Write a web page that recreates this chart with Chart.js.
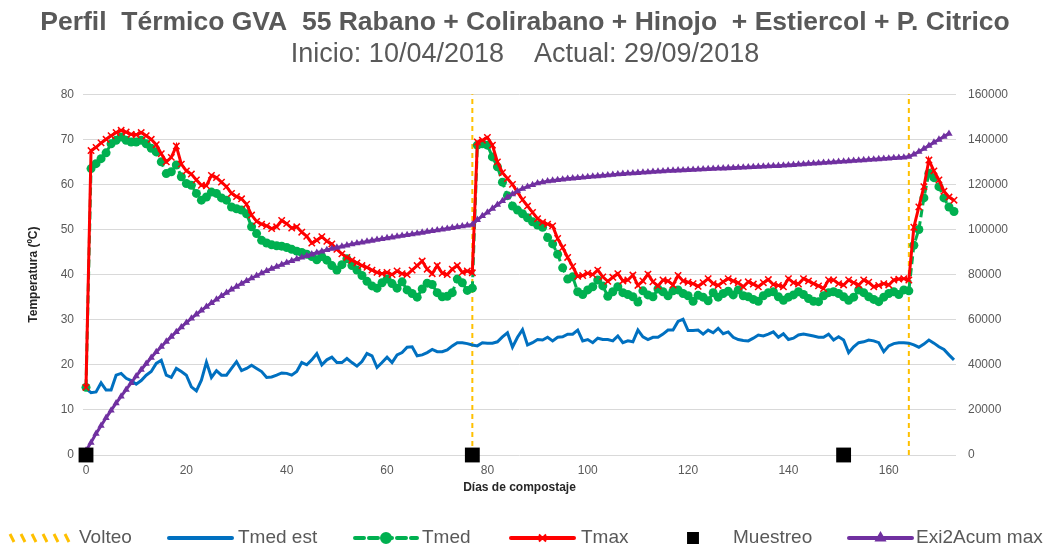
<!DOCTYPE html>
<html>
<head>
<meta charset="utf-8">
<script src="https://cdn.jsdelivr.net/npm/chart.js@4.4.1/dist/chart.umd.min.js"></script>
<style>
html, body { margin: 0; padding: 0; background: #fff; }
</style>
</head>
<body>
<canvas id="perfilChart" width="1050" height="547"></canvas>
<script>
// Datos (un valor por dia de compostaje, dia 0 = 10/04/2018)
const tmedEst = [
  14.7, 13.8, 14.0, 16.0, 14.4, 14.4, 17.7, 18.1, 17.0, 16.5,
  15.7, 16.5, 17.7, 18.5, 20.3, 21.0, 17.7, 17.2, 19.2, 18.5,
  17.7, 15.1, 14.2, 16.6, 20.6, 17.2, 18.7, 17.7, 17.7, 19.2,
  20.7, 18.7, 19.2, 19.9, 19.2, 18.5, 17.2, 17.3, 17.7, 18.2,
  18.1, 17.7, 18.5, 20.5, 20.0, 21.1, 22.5, 20.0, 21.1, 21.7,
  20.5, 20.5, 21.4, 20.5, 19.7, 20.7, 22.5, 22.0, 19.4, 20.5,
  21.7, 20.5, 22.2, 22.7, 23.9, 24.0, 22.0, 22.2, 22.7, 23.4,
  22.9, 22.9, 23.3, 24.2, 24.9, 24.9, 24.7, 24.4, 24.2, 24.9,
  24.8, 24.8, 25.1, 26.2, 27.1, 23.9, 26.1, 27.8, 24.4, 24.9,
  25.6, 25.5, 26.1, 25.3, 26.1, 26.2, 26.8, 26.8, 27.7, 25.3,
  25.6, 24.9, 25.9, 25.6, 25.6, 25.3, 26.4, 24.9, 25.3, 25.1,
  27.7, 26.2, 25.6, 26.1, 26.1, 26.8, 27.7, 27.7, 29.6, 30.1,
  27.6, 27.6, 27.7, 26.8, 27.7, 27.1, 28.1, 26.9, 27.3, 26.1,
  25.6, 25.4, 25.3, 25.9, 26.6, 26.4, 26.8, 27.3, 26.1, 26.9,
  25.6, 25.9, 26.6, 26.8, 26.6, 26.4, 26.1, 26.1, 26.8, 25.5,
  26.2, 25.5, 22.7, 24.0, 24.9, 25.1, 25.5, 25.3, 24.9, 22.9,
  24.2, 24.7, 24.9, 24.9, 24.8, 24.4, 23.9, 24.6, 25.5, 24.8,
  24.0, 23.4, 22.2, 21.1
];

const tmed = [
  15.0, 63.5, 64.6, 65.7, 67.0, 69.0, 69.8, 70.5, 69.8, 69.4,
  69.4, 69.8, 69.0, 68.0, 67.2, 65.0, 62.4, 62.8, 64.3, 61.7,
  60.2, 59.8, 58.0, 56.5, 57.2, 58.3, 58.0, 57.0, 56.5, 55.0,
  54.6, 54.3, 53.5, 50.6, 49.1, 47.6, 47.0, 46.6, 46.4, 46.3,
  46.0, 45.6, 45.2, 44.9, 44.5, 44.0, 43.3, 44.0, 43.2, 42.0,
  41.0, 42.2, 43.5, 42.0, 41.0, 39.8, 38.5, 37.5, 37.0, 38.2,
  39.0, 38.0, 37.0, 38.4, 36.6, 35.8, 35.0, 36.8, 38.1, 37.8,
  36.0, 35.1, 35.2, 36.0, 39.0, 38.2, 36.5, 37.0, 68.7, 69.0,
  68.7, 66.1, 63.9, 60.5, 57.5, 55.2, 54.3, 53.5, 52.6, 51.7,
  51.0, 50.5, 48.2, 46.8, 44.5, 41.5, 39.0, 39.5, 36.2, 35.6,
  36.6, 37.3, 38.8, 37.5, 35.2, 36.2, 37.3, 36.0, 35.6, 35.1,
  33.9, 36.4, 35.5, 35.1, 36.8, 36.2, 35.3, 36.4, 36.6, 35.8,
  35.3, 34.1, 35.4, 35.0, 34.2, 36.0, 35.0, 35.8, 36.3, 35.5,
  36.6, 35.3, 35.1, 34.5, 34.1, 35.3, 36.0, 36.2, 35.1, 34.3,
  35.0, 35.5, 36.2, 35.6, 34.7, 34.1, 34.0, 35.3, 36.0, 36.2,
  35.8, 35.1, 34.3, 35.0, 36.6, 36.0, 35.1, 34.5, 34.0, 35.0,
  35.8, 36.2, 35.6, 36.6, 36.4, 46.5, 50.0, 57.0, 62.5, 61.5,
  59.5, 57.0, 55.0, 54.0
];

const tmax = [
  15.0, 67.5, 68.2, 69.2, 70.0, 70.8, 71.5, 72.0, 71.6, 71.1,
  71.0, 71.5, 70.8, 70.0, 68.8, 66.8, 65.0, 66.0, 68.5, 64.5,
  63.0, 62.3, 61.0, 59.8, 59.7, 62.0, 61.5, 60.5, 59.5, 58.0,
  57.3, 56.8, 55.6, 53.2, 51.8, 51.2, 50.8, 50.2, 50.6, 52.0,
  51.3, 50.3, 50.6, 49.4, 48.5, 47.0, 47.6, 48.4, 47.4, 46.8,
  45.6, 44.6, 43.8, 43.2, 42.6, 42.0, 41.6, 41.0, 40.5, 40.2,
  40.5, 40.0, 40.8, 40.2, 40.0, 41.0, 42.0, 43.0, 41.2, 40.2,
  42.0, 40.3, 40.0, 41.2, 42.0, 40.5, 40.8, 40.4, 69.4, 69.8,
  70.4, 68.7, 65.0, 62.6, 61.3, 60.0, 58.3, 56.6, 55.2, 53.8,
  52.4, 51.6, 51.2, 50.8, 48.0, 46.0, 43.8, 41.8, 39.6, 39.8,
  40.3, 40.0, 41.0, 39.5, 38.5, 39.4, 40.2, 38.6, 38.8, 39.9,
  37.6, 38.6, 40.1, 38.4, 37.5, 38.8, 38.6, 37.7, 39.8, 38.6,
  38.3, 38.0, 37.4, 38.2, 39.1, 38.0, 37.6, 38.4, 39.1, 38.6,
  38.2, 37.3, 38.4, 37.9, 37.3, 38.2, 38.9, 37.8, 37.6, 37.3,
  39.1, 38.2, 37.9, 39.1, 38.6, 38.0, 37.5, 36.9, 38.8, 38.8,
  38.0, 37.7, 38.8, 38.2, 37.7, 38.8, 38.3, 37.3, 37.6, 38.0,
  37.7, 38.8, 39.0, 39.1, 38.8, 50.5, 55.0, 59.5, 65.4, 63.0,
  61.0, 58.5, 57.2, 56.5
];

const exi2AcumMax = [
  2000, 5500, 9500, 13000, 16500, 19800, 23000, 26000, 29000, 32000,
  35000, 37800, 40500, 43200, 45700, 48000, 50300, 52500, 54600, 56700,
  58700, 60600, 62400, 64100, 65800, 67400, 69000, 70500, 72000, 73400,
  74700, 76000, 77200, 78400, 79500, 80600, 81600, 82600, 83500, 84400,
  85300, 86100, 86900, 87600, 88300, 89000, 89700, 90300, 90900, 91500,
  92000, 92500, 93000, 93500, 93900, 94300, 94700, 95100, 95500, 95850,
  96200, 96550, 96900, 97250, 97600, 97950, 98300, 98650, 99000, 99350,
  99700, 100050, 100400, 100750, 101100, 101450, 101800, 102200, 104300, 106000,
  107600, 109300, 111000, 112700, 114300, 115700, 117000, 118100, 119000, 119800,
  120500, 121000, 121400, 121700, 122000, 122250, 122500, 122700, 122900, 123100,
  123300, 123500, 123700, 123900, 124100, 124300, 124500, 124700, 124850, 125000,
  125150, 125300, 125450, 125600, 125750, 125900, 126050, 126150, 126250, 126350,
  126450, 126550, 126650, 126750, 126850, 126950, 127050, 127150, 127250, 127350,
  127450, 127550, 127650, 127750, 127850, 127950, 128050, 128150, 128250, 128400,
  128550, 128700, 128850, 129000, 129150, 129300, 129450, 129600, 129750, 129900,
  130050, 130200, 130350, 130500, 130650, 130800, 130950, 131100, 131250, 131400,
  131550, 131700, 131850, 132000, 132300, 133300, 134500, 135800, 137200, 138600,
  139900, 141200, 142500
];

const volteoDias = [77, 164];
const muestreoDias = [0, 77, 151];

const xTicks = [0, 20, 40, 60, 80, 100, 120, 140, 160];

const gris = '#595959';
const fuente = "'Liberation Sans', Arial, sans-serif";

const porDia = arr => arr.map((v, i) => ({ x: i, y: v }));

// lineas verticales de volteo (de 0 a 80 ºC), separadas por un hueco
const volteoPts = [];
volteoDias.forEach(d => {
  volteoPts.push({ x: d, y: 0 }, { x: d, y: 80 }, { x: d, y: null });
});

const series = [
  { label: 'Volteo', color: '#FFC000', dash: 'rayas', marker: null },
  { label: 'Tmed est', color: '#0070C0', dash: [], marker: null },
  { label: 'Tmed', color: '#00B050', dash: [9, 5], marker: 'circle' },
  { label: 'Tmax', color: '#FF0000', dash: [], marker: 'crossRot' },
  { label: 'Muestreo', color: '#000000', dash: null, marker: 'rect' },
  { label: 'Exi2Acum max', color: '#7030A0', dash: [], marker: 'triangle' }
];

// leyenda inferior dibujada a mano para imitar las muestras de Excel
const leyendaPlugin = {
  id: 'leyendaExcel',
  afterDraw(chart) {
    const c = chart.ctx;
    const y = 538;
    const pos = [
      { x0: 10, x1: 70, tx: 79 },
      { x0: 167, x1: 234, tx: 238 },
      { x0: 353, x1: 419, tx: 422 },
      { x0: 509, x1: 576, tx: 581 },
      { x0: 686, x1: 700, tx: 733 },
      { x0: 847, x1: 914, tx: 916 }
    ];
    c.save();
    series.forEach((s, i) => {
      const p = pos[i];
      if (s.dash === 'rayas') {
        c.strokeStyle = s.color;
        c.lineWidth = 3;
        for (let x = p.x0; x < p.x1; x += 11) {
          c.beginPath();
          c.moveTo(x, y - 4);
          c.lineTo(x + 4, y + 4);
          c.stroke();
        }
      } else if (s.dash) {
        c.beginPath();
        c.setLineDash(s.dash);
        c.lineWidth = 4;
        c.lineCap = 'round';
        c.strokeStyle = s.color;
        c.moveTo(p.x0 + 2, y);
        c.lineTo(p.x1 - 2, y);
        c.stroke();
        c.setLineDash([]);
        c.lineCap = 'butt';
      }
      if (s.marker) {
        c.fillStyle = s.color;
        c.strokeStyle = s.color;
        c.lineWidth = 2;
        Chart.helpers.drawPoint(c, {
          pointStyle: s.marker,
          radius: s.marker === 'rect' ? 7 : 5,
          rotation: 0,
          borderWidth: 2
        }, (p.x0 + p.x1) / 2, y);
      }
      c.fillStyle = gris;
      c.font = '19px ' + fuente;
      c.textBaseline = 'middle';
      c.textAlign = 'left';
      c.fillText(s.label, p.tx, y);
    });
    c.restore();
  }
};

const ctx = document.getElementById('perfilChart').getContext('2d');

new Chart(ctx, {
  type: 'line',
  data: {
    datasets: [
      {
        label: 'Volteo',
        data: volteoPts,
        borderColor: '#FFC000',
        borderWidth: 2,
        borderDash: [5, 4],
        pointRadius: 0,
        spanGaps: false,
        yAxisID: 'y',
        order: 5
      },
      {
        label: 'Tmed est',
        data: porDia(tmedEst),
        borderColor: '#0070C0',
        borderWidth: 3,
        pointRadius: 0,
        yAxisID: 'y',
        order: 4
      },
      {
        label: 'Tmed',
        data: porDia(tmed),
        borderColor: '#00B050',
        backgroundColor: '#00B050',
        borderWidth: 3,
        borderDash: [8, 4],
        pointStyle: 'circle',
        pointRadius: 4.5,
        pointBorderWidth: 0,
        pointBackgroundColor: '#00B050',
        yAxisID: 'y',
        order: 3
      },
      {
        label: 'Tmax',
        data: porDia(tmax),
        borderColor: '#FF0000',
        backgroundColor: '#FF0000',
        borderWidth: 3,
        pointStyle: 'crossRot',
        pointRadius: 4.5,
        pointBorderWidth: 1.5,
        pointBorderColor: '#FF0000',
        yAxisID: 'y',
        order: 2
      },
      {
        label: 'Muestreo',
        data: muestreoDias.map(d => ({ x: d, y: 0 })),
        showLine: false,
        pointStyle: 'rect',
        pointRadius: 10.5,
        pointBackgroundColor: '#000',
        pointBorderColor: '#000',
        pointBorderWidth: 0,
        yAxisID: 'y',
        order: 0
      },
      {
        label: 'Exi2Acum max',
        data: porDia(exi2AcumMax),
        borderColor: '#7030A0',
        backgroundColor: '#7030A0',
        borderWidth: 3,
        pointStyle: 'triangle',
        pointRadius: 4.2,
        pointBorderWidth: 0,
        pointBackgroundColor: '#7030A0',
        yAxisID: 'y1',
        order: 1
      }
    ].map(ds => Object.assign({ clip: false, tension: 0 }, ds))
  },
  options: {
    responsive: false,
    animation: false,
    layout: { padding: { left: 0, right: 0, top: 0, bottom: 52 } },
    plugins: {
      legend: { display: false },
      tooltip: { enabled: false },
      title: {
        display: true,
        text: 'Perfil  Térmico GVA  55 Rabano + Colirabano + Hinojo  + Estiercol + P. Citrico',
        color: gris,
        font: { family: fuente, size: 26.5, weight: 'bold', lineHeight: 1.2 },
        padding: { top: 7, bottom: 0 }
      },
      subtitle: {
        display: true,
        text: 'Inicio: 10/04/2018    Actual: 29/09/2018',
        color: gris,
        font: { family: fuente, size: 27, lineHeight: 1.2 },
        padding: { top: 0, bottom: 23 }
      }
    },
    scales: {
      x: {
        type: 'linear',
        min: -0.6,
        max: 173.4,
        afterFit: s => { s.height = 40; },
        afterBuildTicks: s => { s.ticks = xTicks.map(v => ({ value: v })); },
        grid: { display: false, drawTicks: false },
        border: { display: false },
        ticks: { color: gris, font: { family: fuente, size: 12 }, padding: 8, maxRotation: 0, autoSkip: false },
        title: {
          display: true,
          text: 'Días de compostaje',
          color: '#262626',
          font: { family: fuente, size: 12, weight: 'bold', lineHeight: 1.2 },
          padding: { top: 0, bottom: 0 }
        }
      },
      y: {
        position: 'left',
        min: 0,
        max: 80,
        afterFit: s => { s.width = 83; },
        grid: { color: '#D9D9D9', lineWidth: 1, drawTicks: false },
        border: { display: false },
        ticks: { stepSize: 10, color: gris, font: { family: fuente, size: 12 }, padding: 9 },
        title: {
          display: true,
          text: 'Temperatura (ºC)',
          color: '#262626',
          font: { family: fuente, size: 12, weight: 'bold', lineHeight: 1.2 },
          padding: { top: 26, bottom: 0 }
        }
      },
      y1: {
        position: 'right',
        min: 0,
        max: 160000,
        afterFit: s => { s.width = 94; },
        grid: { drawOnChartArea: false, drawTicks: false },
        border: { display: false },
        ticks: {
          stepSize: 20000,
          color: gris,
          font: { family: fuente, size: 12 },
          padding: 12,
          callback: v => String(v)
        }
      }
    }
  },
  plugins: [leyendaPlugin]
});
</script>
</body>
</html>
